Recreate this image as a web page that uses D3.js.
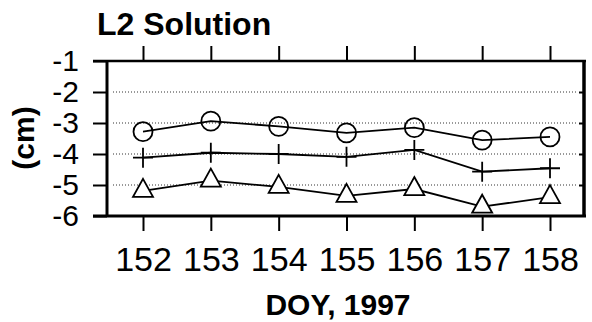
<!DOCTYPE html>
<html>
<head>
<meta charset="utf-8">
<script src="https://cdn.jsdelivr.net/npm/d3@7"></script>
<style>
  body { margin: 0; background: #fff; }
  svg { display: block; font-family: "Liberation Sans", Arial, sans-serif; }
</style>
</head>
<body>
<svg id="chart" width="592" height="322"></svg>
<script>
// data
var days = [152, 153, 154, 155, 156, 157, 158];
var circleVals = [-3.28, -2.94, -3.11, -3.32, -3.15, -3.55, -3.45];
var plusVals = [-4.12, -3.96, -4.00, -4.09, -3.87, -4.57, -4.46];
var triVals = [-5.19, -4.86, -5.06, -5.35, -5.13, -5.70, -5.39];
var yTicks = [-1, -2, -3, -4, -5, -6];
var gridTicks = [-2, -3, -4, -5];

var svg = d3.select("#chart");

var x = d3.scaleLinear().domain([152, 158]).range([143, 550]);
var y = d3.scaleLinear().domain([-1, -6]).range([61, 216]);
var left = 107, right = 584;

// dotted grid
svg.selectAll(".grid")
  .data(gridTicks)
  .enter()
  .append("line")
  .attr("class", "grid")
  .attr("x1", left + 6)
  .attr("x2", right - 6)
  .attr("y1", d => y(d))
  .attr("y2", d => y(d))
  .attr("stroke", "#333")
  .attr("stroke-width", 1)
  .attr("stroke-dasharray", "1,2");

// axes
var yAxis = svg.append("g")
  .attr("transform", "translate(" + left + ",0)")
  .call(d3.axisLeft(y).tickValues(yTicks).tickSize(14).tickPadding(14).tickFormat(d => "-" + Math.abs(d)));

var yAxisR = svg.append("g")
  .attr("transform", "translate(" + right + ",0)")
  .call(d3.axisRight(y).tickValues(gridTicks).tickSize(-5).tickFormat(""));

var xAxis = svg.append("g")
  .attr("transform", "translate(0," + y(-6) + ")")
  .call(d3.axisBottom(x).tickValues(days).tickSize(15).tickPadding(16).tickFormat(d3.format("d")));

var xAxisTop = svg.append("g")
  .attr("transform", "translate(0," + y(-1) + ")")
  .call(d3.axisTop(x).tickValues(days).tickSize(15).tickFormat(""));

[yAxis, yAxisR, xAxis, xAxisTop].forEach(function(g) {
  g.select(".domain").remove();
  g.selectAll(".tick line").attr("stroke", "#000").attr("stroke-width", 2);
});
yAxis.selectAll("text").attr("font-size", 30).attr("fill", "#000");
xAxis.selectAll("text").attr("font-size", 34).attr("fill", "#000");

// frame
svg.append("line").attr("x1", 93).attr("x2", right + 2).attr("y1", y(-1)).attr("y2", y(-1))
  .attr("stroke", "#000").attr("stroke-width", 2.5);
svg.append("line").attr("x1", 93).attr("x2", right + 2).attr("y1", y(-6)).attr("y2", y(-6))
  .attr("stroke", "#000").attr("stroke-width", 3);
svg.append("line").attr("x1", left).attr("x2", left).attr("y1", y(-1)).attr("y2", y(-6))
  .attr("stroke", "#000").attr("stroke-width", 3);
svg.append("line").attr("x1", right).attr("x2", right).attr("y1", y(-1)).attr("y2", y(-6) + 1)
  .attr("stroke", "#000").attr("stroke-width", 3.5);

// series lines
var line = d3.line().x((d, i) => x(days[i])).y(d => y(d));
[circleVals, plusVals, triVals].forEach(function(s) {
  svg.append("path")
    .attr("d", line(s))
    .attr("fill", "none")
    .attr("stroke", "#000")
    .attr("stroke-width", 1.8);
});

// markers
svg.selectAll(".circ")
  .data(circleVals)
  .enter()
  .append("circle")
  .attr("class", "circ")
  .attr("cx", (d, i) => x(days[i]))
  .attr("cy", d => y(d))
  .attr("r", 9.5)
  .attr("fill", "none")
  .attr("stroke", "#000")
  .attr("stroke-width", 1.8);

svg.selectAll(".plus")
  .data(plusVals)
  .enter()
  .append("path")
  .attr("class", "plus")
  .attr("d", (d, i) => {
    var cx = x(days[i]), cy = y(d);
    return "M" + (cx - 10) + "," + cy + "H" + (cx + 10) + "M" + cx + "," + (cy - 10) + "V" + (cy + 10);
  })
  .attr("fill", "none")
  .attr("stroke", "#000")
  .attr("stroke-width", 1.8);

svg.selectAll(".tri")
  .data(triVals)
  .enter()
  .append("path")
  .attr("class", "tri")
  .attr("d", (d, i) => {
    var cx = x(days[i]), cy = y(d);
    return "M" + cx + "," + (cy - 12) + "L" + (cx + 10) + "," + (cy + 6) + "L" + (cx - 10) + "," + (cy + 6) + "Z";
  })
  .attr("fill", "#fff")
  .attr("stroke", "#000")
  .attr("stroke-width", 1.8);

// texts
svg.append("text")
  .attr("x", 97).attr("y", 35)
  .attr("font-size", 32).attr("font-weight", "bold")
  .text("L2 Solution");

svg.append("text")
  .attr("x", 338).attr("y", 315)
  .attr("text-anchor", "middle")
  .attr("font-size", 30).attr("font-weight", "bold")
  .text("DOY, 1997");

svg.append("text")
  .attr("transform", "translate(34,138) rotate(-90)")
  .attr("text-anchor", "middle")
  .attr("font-size", 30).attr("font-weight", "bold")
  .text("(cm)");
</script>
</body>
</html>
